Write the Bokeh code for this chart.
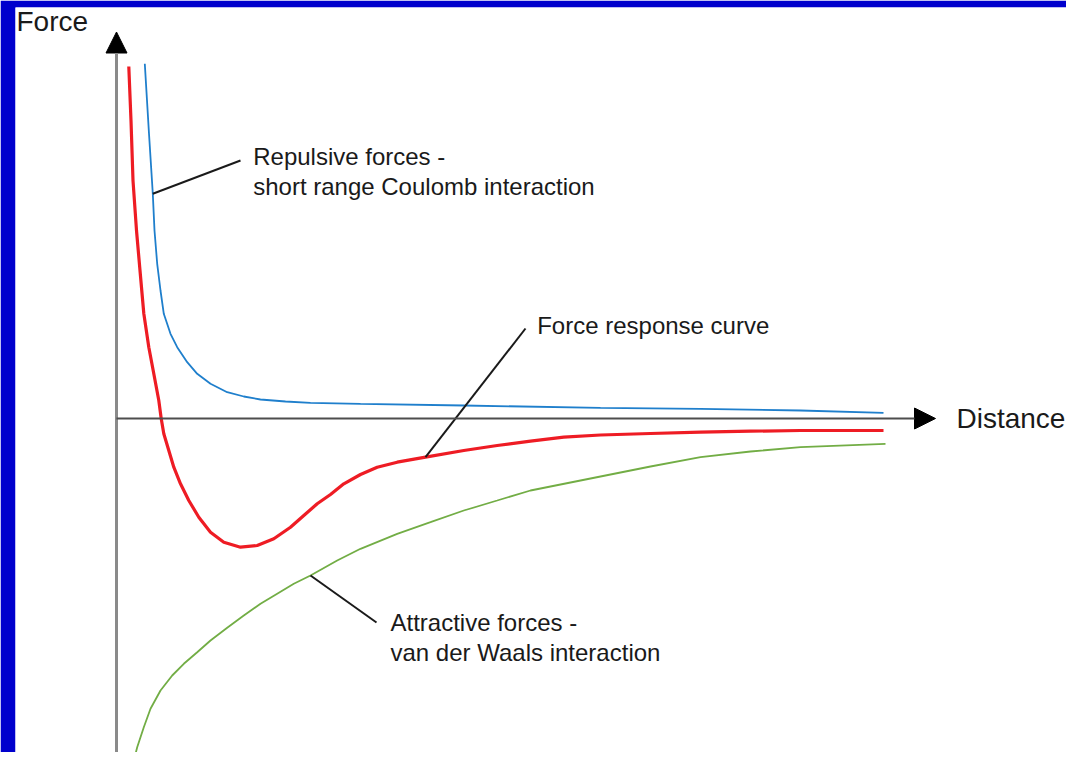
from bokeh.plotting import figure
from bokeh.models import Range1d, Arrow, NormalHead, Label
from bokeh.embed import file_html
from bokeh.resources import INLINE

# Distance (arbitrary units) and force (arbitrary units)
rep_x = [0.283, 0.323, 0.363, 0.38, 0.407, 0.44, 0.473, 0.54, 0.607, 0.707, 0.807,
         0.94, 1.107, 1.273, 1.44, 1.69, 1.94, 2.44, 3.473, 4.84, 5.84, 6.84, 7.67]
rep_y = [7.094, 5.76, 4.494, 3.76, 3.094, 2.56, 2.094, 1.694, 1.426, 1.126, 0.894,
         0.694, 0.526, 0.44, 0.38, 0.34, 0.314, 0.294, 0.26, 0.214, 0.194, 0.16, 0.114]

net_x = [0.123, 0.145, 0.165, 0.20, 0.235, 0.273, 0.323, 0.373, 0.423, 0.447, 0.473,
         0.523, 0.573, 0.64, 0.723, 0.823, 0.94, 1.073, 1.24, 1.407, 1.573, 1.74,
         1.873, 2.007, 2.14, 2.273, 2.44, 2.607, 2.807, 3.09, 3.473, 3.807, 4.14,
         4.473, 4.84, 5.34, 5.84, 6.34, 6.84, 7.67]
net_y = [7.04, 5.96, 4.76, 3.76, 2.96, 2.10, 1.426, 0.894, 0.36, 0.0, -0.306,
         -0.64, -0.974, -1.306, -1.64, -1.974, -2.274, -2.474, -2.574, -2.54, -2.406, -2.174,
         -1.94, -1.706, -1.52, -1.306, -1.12, -0.974, -0.874, -0.774, -0.64, -0.54, -0.454,
         -0.374, -0.33, -0.30, -0.274, -0.254, -0.24, -0.24]

att_x = [0.157, 0.207, 0.273, 0.34, 0.44, 0.557, 0.673, 0.807, 0.94, 1.107, 1.273,
         1.44, 1.607, 1.773, 1.94, 2.207, 2.44, 2.807, 3.14, 3.473, 3.807, 4.14,
         4.64, 5.14, 5.34, 5.84, 6.34, 6.84, 7.69]
att_y = [-6.974, -6.574, -6.174, -5.806, -5.44, -5.14, -4.906, -4.674, -4.44, -4.186, -3.94,
         -3.706, -3.506, -3.306, -3.14, -2.84, -2.606, -2.306, -2.074, -1.84, -1.64, -1.44,
         -1.24, -1.04, -0.96, -0.774, -0.66, -0.574, -0.506]

# annotation texts and leader lines
note_text = ["Repulsive forces -", "short range Coulomb interaction",
             "Force response curve",
             "Attractive forces -", "van der Waals interaction"]
note_x = [1.367, 1.367, 4.207, 2.74, 2.74]
note_y = [5.234, 4.64, 1.854, -4.08, -4.68]

lead_x0 = [0.363, 3.09, 1.94]
lead_y0 = [4.494, -0.774, -3.14]
lead_x1 = [1.24, 4.09, 2.60]
lead_y1 = [5.16, 1.80, -4.08]

p = figure(width=1066, height=752,
           x_range=Range1d(-1.01, 9.50), y_range=Range1d(-6.68, 8.22),
           output_backend="svg", toolbar_location=None,
           x_axis_type=None, y_axis_type=None,
           min_border_left=15, min_border_right=0, min_border_top=7, min_border_bottom=0)
p.outline_line_color = None
p.border_fill_color = "#0000cd"
p.background_fill_color = "white"
p.grid.visible = False

# axes drawn as arrows
p.add_layout(Arrow(end=NormalHead(size=21, fill_color="black", line_color="black", line_width=1),
                   x_start=0, y_start=-7.2, x_end=0, y_end=7.73,
                   line_color="#8a8a8a", line_width=3))
p.add_layout(Arrow(end=NormalHead(size=21, fill_color="black", line_color="black", line_width=1),
                   x_start=0, y_start=0, x_end=8.19, y_end=0,
                   line_color="#4d4d4d", line_width=2))

p.line(rep_x, rep_y, line_color="#1f7fcc", line_width=1.8)
p.line(att_x, att_y, line_color="#72ad45", line_width=1.8)
p.line(net_x, net_y, line_color="#ee1c24", line_width=3.2)

p.segment(lead_x0, lead_y0, lead_x1, lead_y1, line_color="#1a1a1a", line_width=2)

for t, x, y in zip(note_text, note_x, note_y):
    p.add_layout(Label(x=x, y=y, text=t, text_font="Liberation Sans",
                       text_font_size="24px", text_color="#1a1a1a",
                       text_baseline="alphabetic"))

p.add_layout(Label(x=-1.0, y=7.94, text="Force", text_font="Liberation Sans",
                   text_font_size="28px", text_color="#1a1a1a", text_baseline="alphabetic"))
p.add_layout(Label(x=8.40, y=0.006, text="Distance", text_font="Liberation Sans",
                   text_font_size="28px", text_color="#1a1a1a", text_baseline="alphabetic"))

open("out.html", "w").write(file_html(p, INLINE))
